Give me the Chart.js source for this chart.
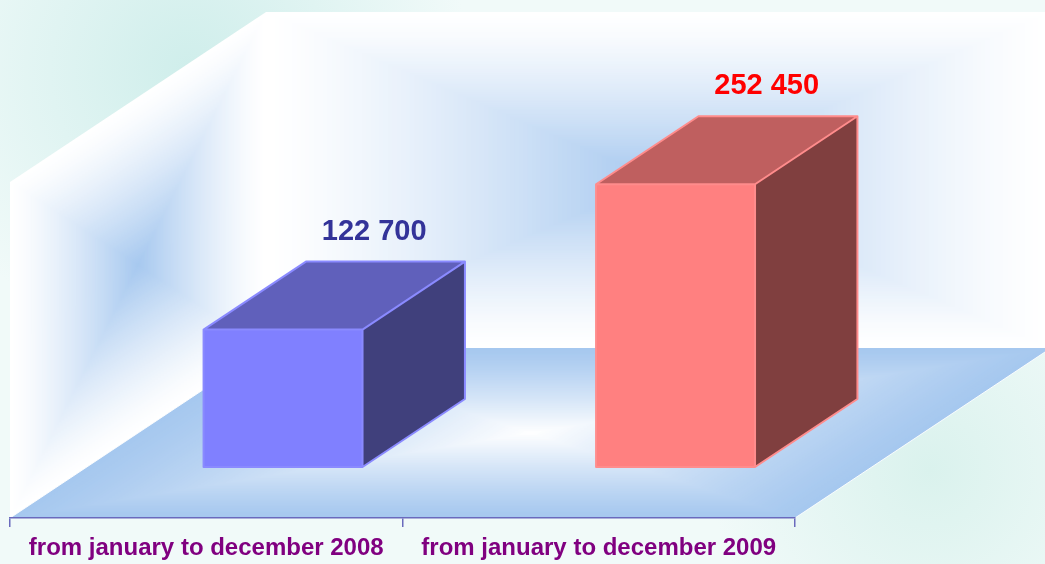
<!DOCTYPE html>
<html>
<head>
<meta charset="utf-8">
<script src="https://cdn.jsdelivr.net/npm/chart.js@4.4.1/dist/chart.umd.min.js"></script>
<style>
  html, body { margin: 0; padding: 0; background: #eef8f7; }
  canvas { display: block; }
</style>
</head>
<body>
<canvas id="periodChart" width="1045" height="564"></canvas>
<script>
const categories = ['from january to december 2008', 'from january to december 2009'];
const values = [122700, 252450];
const axisMax = 300000;

const frontColors = ['#8080ff', '#ff8080'];
const topColors = ['#6060bb', '#bf5f5f'];
const sideColors = ['#40407c', '#803f3f'];
const edgeColors = ['#8a8aff', '#ff8c8c'];
const valueColors = ['#333399', '#ff0000'];

// 3d look: depth of the floor, where the bars stand on it and how deep they are
const depth = { x: 256, y: -170 };
const barFront = 0.3;
const barDepth = 0.4;

const wallBlue = [166, 200, 239];
const white = [255, 255, 255];

function formatValue(v) {
    return String(v).replace(/\B(?=(\d{3})+(?!\d))/g, ' ');
}

function mixColor(a, b, t) {
    const c = a.map((v, i) => Math.round(v + (b[i] - v) * t));
    return 'rgb(' + c.join(',') + ')';
}

// "from center" fill of a parallelogram: origin o, edges u and v
function centerFill(ctx, ox, oy, ux, uy, vx, vy, outer, inner, curve) {
    const steps = 90;
    ctx.save();
    ctx.transform(ux, uy, vx, vy, ox, oy);
    for (let i = 0; i < steps; i++) {
        const k = i / steps;
        ctx.fillStyle = mixColor(outer, inner, Math.pow(k, curve));
        ctx.fillRect(k / 2, k / 2, 1 - k, 1 - k);
    }
    ctx.restore();
}

const wallsPlugin = {
    id: 'walls',
    beforeDraw(chart) {
        const ctx = chart.ctx;
        const a = chart.chartArea;
        const w = chart.width, h = chart.height;

        ctx.save();
        ctx.fillStyle = '#f1faf9';
        ctx.fillRect(0, 0, w, h);
        let g = ctx.createRadialGradient(190, 70, 0, 190, 70, 280);
        g.addColorStop(0, 'rgba(207,238,235,1)');
        g.addColorStop(1, 'rgba(207,238,235,0)');
        ctx.fillStyle = g;
        ctx.fillRect(0, 0, w, h);
        g = ctx.createRadialGradient(930, 470, 0, 930, 470, 220);
        g.addColorStop(0, 'rgba(218,242,237,1)');
        g.addColorStop(1, 'rgba(218,242,237,0)');
        ctx.fillStyle = g;
        ctx.fillRect(0, 0, w, h);
        ctx.restore();

        const fw = a.right - a.left;
        const fh = a.bottom - a.top;
        // back wall
        centerFill(ctx, a.left + depth.x, a.top + depth.y, fw, 0, 0, fh, white, wallBlue, 1.3);
        // side wall
        centerFill(ctx, a.left, a.top, depth.x, depth.y, 0, fh, white, wallBlue, 1.3);
        // floor
        centerFill(ctx, a.left, a.bottom, fw, 0, depth.x, depth.y, wallBlue, white, 1.2);

        ctx.save();
        ctx.strokeStyle = 'rgba(255,255,255,0.9)';
        ctx.lineWidth = 1;
        ctx.beginPath();
        ctx.moveTo(a.left, a.bottom);
        ctx.lineTo(a.left + depth.x, a.bottom + depth.y);
        ctx.moveTo(a.right, a.bottom);
        ctx.lineTo(a.right + depth.x, a.bottom + depth.y);
        ctx.stroke();
        ctx.restore();
    }
};

const boxesPlugin = {
    id: 'boxes',
    beforeDatasetsDraw(chart) {
        chart.ctx.save();
        chart.ctx.translate(depth.x * barFront, depth.y * barFront);
    },
    afterDatasetsDraw(chart) {
        const ctx = chart.ctx;
        ctx.restore();
        const fx = depth.x * barFront, fy = depth.y * barFront;
        const bx = depth.x * barDepth, by = depth.y * barDepth;
        chart.getDatasetMeta(0).data.forEach((el, i) => {
            const x0 = el.x - el.width / 2 + fx;
            const x1 = el.x + el.width / 2 + fx;
            const yt = el.y + fy;
            const yb = el.base + fy;

            ctx.save();
            ctx.lineJoin = 'round';
            ctx.fillStyle = topColors[i];
            ctx.beginPath();
            ctx.moveTo(x0, yt);
            ctx.lineTo(x1, yt);
            ctx.lineTo(x1 + bx, yt + by);
            ctx.lineTo(x0 + bx, yt + by);
            ctx.closePath();
            ctx.fill();

            ctx.fillStyle = sideColors[i];
            ctx.beginPath();
            ctx.moveTo(x1, yt);
            ctx.lineTo(x1 + bx, yt + by);
            ctx.lineTo(x1 + bx, yb + by);
            ctx.lineTo(x1, yb);
            ctx.closePath();
            ctx.fill();

            ctx.strokeStyle = edgeColors[i];
            ctx.lineWidth = 2;
            ctx.beginPath();
            ctx.moveTo(x0, yb);
            ctx.lineTo(x0, yt);
            ctx.lineTo(x0 + bx, yt + by);
            ctx.lineTo(x1 + bx, yt + by);
            ctx.lineTo(x1 + bx, yb + by);
            ctx.lineTo(x1, yb);
            ctx.closePath();
            ctx.moveTo(x0, yt);
            ctx.lineTo(x1, yt);
            ctx.lineTo(x1 + bx, yt + by);
            ctx.moveTo(x1, yt);
            ctx.lineTo(x1, yb);
            ctx.stroke();

            ctx.fillStyle = valueColors[i];
            ctx.font = "bold 29px 'Liberation Sans', Arial, sans-serif";
            ctx.textAlign = 'center';
            ctx.textBaseline = 'alphabetic';
            ctx.fillText(formatValue(values[i]), el.x + fx + bx * 0.89, yt + by - 22);
            ctx.restore();
        });
    }
};

new Chart(document.getElementById('periodChart').getContext('2d'), {
    type: 'bar',
    data: {
        labels: categories,
        datasets: [{
            data: values,
            backgroundColor: frontColors,
            borderWidth: 0,
            barPercentage: 0.405,
            categoryPercentage: 1,
            clip: false
        }]
    },
    options: {
        responsive: false,
        animation: false,
        layout: { padding: { left: 10, right: 250, top: 182, bottom: 0 } },
        plugins: {
            legend: { display: false },
            tooltip: { enabled: false }
        },
        scales: {
            x: {
                grid: {
                    display: true,
                    drawOnChartArea: false,
                    offset: true,
                    tickLength: 9,
                    color: '#6a6abd',
                    lineWidth: 1.5
                },
                border: { display: true, color: '#6a6abd', width: 1.5 },
                ticks: {
                    color: '#800080',
                    font: { family: "'Liberation Sans', Arial, sans-serif", size: 24, weight: 'bold' },
                    padding: 7,
                    maxRotation: 0,
                    autoSkip: false
                },
                afterFit: (scale) => { scale.height = 46; }
            },
            y: { display: false, min: 0, max: axisMax }
        }
    },
    plugins: [wallsPlugin, boxesPlugin]
});
</script>
</body>
</html>
